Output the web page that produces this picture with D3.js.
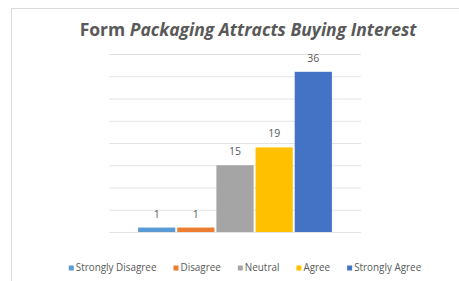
<!DOCTYPE html>
<html>
<head>
<meta charset="utf-8">
<script src="https://cdn.jsdelivr.net/npm/d3@7"></script>
<style>
  body { margin: 0; background: #fff; }
  text { font-family: "Open Sans", sans-serif; }
</style>
</head>
<body>
<svg id="chart"></svg>
<script>
var width = 459, height = 281;

// data
var category = ["Form Packaging Attracts Buying Interest"];
var seriesNames = ["Strongly Disagree", "Disagree", "Neutral", "Agree", "Strongly Agree"];
var seriesValues = [1, 1, 15, 19, 36];
var seriesColors = ["#5B9BD5", "#ED7D31", "#A5A5A5", "#FFC000", "#4472C4"];
var yTicks = [0, 5, 10, 15, 20, 25, 30, 35, 40];

var plot = {left: 109, right: 361, top: 54, bottom: 232};
var textColor = "#595959";

var svg = d3.select("#chart")
    .attr("width", width)
    .attr("height", height);

// chart area frame (runs off right and bottom)
svg.append("path")
    .attr("d", "M11.5," + height + "V8.5H" + width)
    .attr("fill", "none")
    .attr("stroke", "#d9d9d9")
    .attr("stroke-width", 1);

var yScale = d3.scaleLinear()
    .domain([0, 40])
    .range([plot.bottom, plot.top]);

var x0 = d3.scaleBand()
    .domain(category)
    .range([plot.left, plot.right])
    .paddingInner(0)
    .paddingOuter(0.15);

var x1 = d3.scaleBand()
    .domain(seriesNames)
    .range([0, x0.bandwidth()])
    .paddingInner(0.05);

// gridlines
var yAxis = svg.append("g")
    .attr("transform", "translate(" + plot.left + ",0)")
    .call(d3.axisLeft(yScale)
        .tickValues(yTicks)
        .tickSize(-(plot.right - plot.left))
        .tickFormat(""));
yAxis.select(".domain").remove();
yAxis.selectAll(".tick line")
    .attr("stroke", "#e3e3e3");

var bars = svg.append("g")
    .attr("transform", "translate(" + x0(category[0]) + ",0)");

bars.selectAll("rect")
  .data(seriesValues)
  .join("rect")
    .attr("x", (d, i) => x1(seriesNames[i]))
    .attr("y", d => yScale(d))
    .attr("width", x1.bandwidth())
    .attr("height", d => yScale(0) - yScale(d))
    .attr("fill", (d, i) => seriesColors[i]);

bars.selectAll("text")
  .data(seriesValues)
  .join("text")
    .attr("x", (d, i) => x1(seriesNames[i]) + x1.bandwidth() / 2)
    .attr("y", d => yScale(d) - 10)
    .attr("text-anchor", "middle")
    .attr("font-size", "10.5px")
    .attr("fill", textColor)
    .text(d => d);

// title
var title = svg.append("text")
    .attr("x", 248)
    .attr("y", 36)
    .attr("text-anchor", "middle")
    .attr("font-size", "17.5px")
    .attr("font-weight", "bold")
    .attr("fill", textColor);
title.append("tspan").text("Form ");
title.append("tspan").attr("font-style", "italic").text("Packaging Attracts Buying Interest");

// legend
var legend = svg.append("g");
var lx = 0;
seriesNames.forEach(function(name, i) {
  var item = legend.append("g").attr("transform", "translate(" + lx + ",0)");
  item.append("rect")
      .attr("x", 0)
      .attr("y", -5.5)
      .attr("width", 5)
      .attr("height", 5)
      .attr("fill", seriesColors[i]);
  var t = item.append("text")
      .attr("x", 7)
      .attr("y", 0)
      .attr("font-size", "9.9px")
      .attr("fill", textColor)
      .text(name);
  lx += 7 + t.node().getComputedTextLength() + 17;
});
lx -= 17;
legend.attr("transform", "translate(" + (245 - lx / 2) + ",271)");
</script>
</body>
</html>
